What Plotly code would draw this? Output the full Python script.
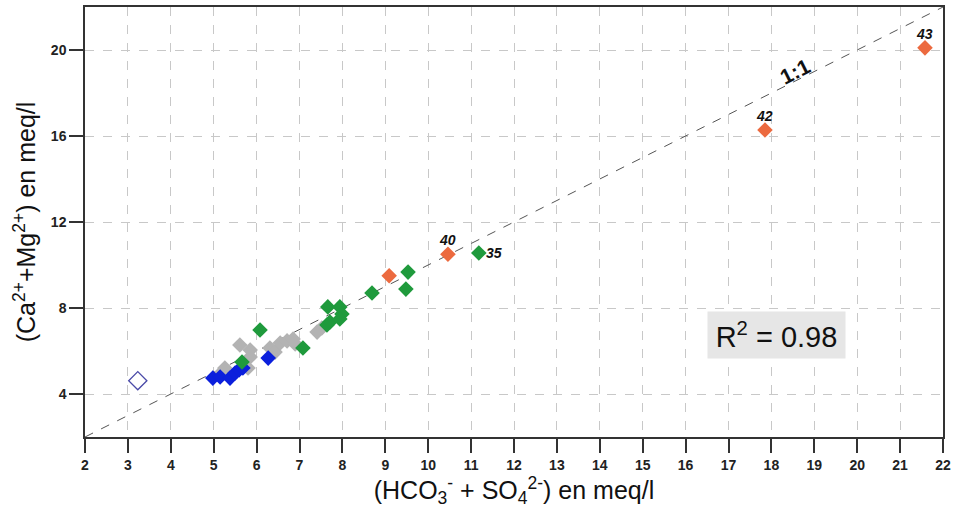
import plotly.graph_objects as go

# ---- data ----
orange_x = [21.58, 17.85, 10.46, 9.09]
orange_y = [20.10, 16.28, 10.50, 9.50]
orange_lbl = ["43", "42", "40", ""]

green_x = [6.08, 5.66, 7.08, 7.64, 7.71, 7.66, 7.94, 7.99, 7.94, 8.69, 9.48, 9.53, 11.18]
green_y = [6.98, 5.49, 6.14, 7.21, 7.35, 8.05, 8.05, 7.72, 7.49, 8.70, 8.88, 9.67, 10.56]

grey_x = [5.19, 5.26, 5.61, 5.85, 5.85, 5.80, 6.31, 6.43, 6.55, 6.71, 6.85, 6.90, 7.41, 7.52]
grey_y = [5.02, 5.21, 6.28, 6.05, 5.72, 5.21, 6.14, 5.95, 6.37, 6.47, 6.56, 6.33, 6.88, 7.07]

blue_x = [4.98, 5.15, 5.38, 5.50, 5.59, 5.68, 6.27]
blue_y = [4.74, 4.79, 4.74, 4.98, 5.12, 5.21, 5.67]

open_x = [3.23]
open_y = [4.62]

line_x = [2, 22]
line_y = [2, 22]

x_ticks = list(range(2, 23))
y_ticks = [4, 8, 12, 16, 20]

r2_text = "R<sup>2</sup> = 0.98"

FONT = "Liberation Sans, Arial"

fig = go.Figure()

fig.add_trace(go.Scatter(x=line_x, y=line_y, mode="lines",
                         line=dict(color="#555555", width=1, dash="dash"),
                         hoverinfo="skip", showlegend=False))

fig.add_trace(go.Scatter(x=grey_x, y=grey_y, mode="markers",
                         marker=dict(symbol="diamond", size=12, color="#b3b3b3"),
                         showlegend=False))
fig.add_trace(go.Scatter(x=blue_x, y=blue_y, mode="markers",
                         marker=dict(symbol="diamond", size=12, color="#0b1fdc"),
                         showlegend=False))
fig.add_trace(go.Scatter(x=green_x, y=green_y, mode="markers",
                         marker=dict(symbol="diamond", size=12, color="#1f9a3c"),
                         showlegend=False))
fig.add_trace(go.Scatter(x=orange_x, y=orange_y, mode="markers",
                         marker=dict(symbol="diamond", size=12, color="#ec6a3f"),
                         showlegend=False))
fig.add_trace(go.Scatter(x=open_x, y=open_y, mode="markers",
                         marker=dict(symbol="diamond-open", size=14, color="#4a4aa8",
                                     line=dict(width=1.3)),
                         showlegend=False))

lblfont = dict(family=FONT, size=14, color="#111111")
for x, y, t in zip(orange_x, orange_y, orange_lbl):
    if t:
        fig.add_annotation(x=x, y=y, text="<b><i>%s</i></b>" % t, showarrow=False,
                           yshift=14, font=lblfont)
fig.add_annotation(x=green_x[-1], y=green_y[-1], text="<b><i>35</i></b>", showarrow=False,
                   xanchor="left", xshift=5, font=lblfont)

fig.add_annotation(x=18.55, y=18.98, text="<b>1:1</b>", showarrow=False, textangle=-26.6,
                   font=dict(family=FONT, size=21, color="#111111"))

fig.add_annotation(x=18.13, y=6.74, text=r2_text, showarrow=False,
                   bgcolor="#e6e6e6", borderpad=6, width=125, height=34,
                   font=dict(family=FONT, size=29, color="#111111"))

axis_common = dict(showline=True, linecolor="#333333", linewidth=1.5, mirror=True,
                   ticks="outside", ticklen=14, tickcolor="#333333", tickwidth=1.5,
                   showgrid=True, gridcolor="#c8c8c8", griddash="dash", gridwidth=1,
                   zeroline=False,
                   tickfont=dict(family=FONT, size=14, color="#222222"),
                   title_font=dict(family=FONT, size=25, color="#111111"))

fig.update_xaxes(range=[2, 22], tickvals=x_ticks,
                 ticktext=["<b>%d</b>" % v for v in x_ticks],
                 title_text="(HCO<sub>3</sub><sup>-</sup> + SO<sub>4</sub><sup>2-</sup>) en meq/l",
                 title_standoff=4, **axis_common)
fig.update_yaxes(range=[2, 22], tickvals=y_ticks,
                 ticktext=["<b>%d</b>" % v for v in y_ticks],
                 title_text="(Ca<sup>2+</sup>+Mg<sup>2+</sup>) en meq/l",
                 title_standoff=8, **axis_common)

fig.update_layout(width=957, height=517, plot_bgcolor="white", paper_bgcolor="white",
                  margin=dict(l=85, r=14, t=7, b=80, autoexpand=False))

fig.write_html("out.html", config={"displayModeBar": False},
               post_script="document.body.style.margin='0px';")
